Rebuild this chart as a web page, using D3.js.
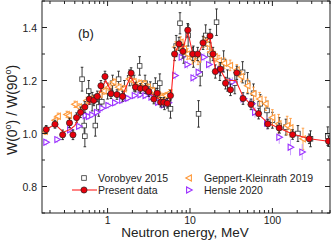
<!DOCTYPE html>
<html><head><meta charset="utf-8">
<script src="https://cdn.jsdelivr.net/npm/d3@7"></script>
<style>body{margin:0;background:#fff}svg{display:block;font-family:"Liberation Sans",Arial,sans-serif}</style>
</head><body><svg id="c" width="331" height="242"></svg>
<script>
// ---- data ----
const presentE = [0.18,0.23,0.285,0.345,0.38,0.42,0.47,0.53,0.6,0.68,0.75,0.83,0.93,1.1,1.3,1.52,1.93,2.18,2.5,2.88,3.17,3.64,4.0,4.4,4.8,5.3,5.8,6.5,7.35,8.2,9.4,10.8,12.4,14.4,17.5,19,20.3,23.4,27,31,37,44,55,68,88,121,176,280,480];
const presentW = [1.015,1.035,0.995,1.04,0.995,1.06,1.08,1.10,1.13,1.125,1.14,1.18,1.215,1.15,1.147,1.14,1.228,1.175,1.17,1.17,1.158,1.13,1.152,1.118,1.118,1.114,1.143,1.30,1.338,1.31,1.39,1.30,1.30,1.342,1.368,1.30,1.234,1.243,1.19,1.165,1.229,1.132,1.11,1.075,1.036,1.021,0.996,0.98,0.971];
const presentErr = [0.015,0.015,0.018,0.018,0.018,0.018,0.02,0.02,0.02,0.02,0.02,0.02,0.02,0.018,0.018,0.018,0.02,0.018,0.018,0.018,0.018,0.018,0.018,0.018,0.018,0.018,0.02,0.025,0.025,0.025,0.025,0.025,0.025,0.025,0.025,0.025,0.025,0.025,0.022,0.022,0.025,0.022,0.02,0.02,0.018,0.018,0.018,0.018,0.02];
const fitE = [0.18,0.23,0.29,0.35,0.4,0.47,0.55,0.65,0.75,0.85,0.95,1.1,1.3,1.55,1.9,2.2,2.6,3.2,4.0,4.8,5.5,5.9,6.5,7.3,8.3,9.4,10.8,12.5,14.5,17.5,20.3,23.4,27,31,36,44,55,68,88,121,176,280,480];
const fitW = [1.015,1.035,1.005,1.015,1.03,1.07,1.10,1.125,1.14,1.17,1.20,1.16,1.147,1.15,1.215,1.18,1.17,1.155,1.135,1.118,1.12,1.14,1.30,1.335,1.325,1.385,1.30,1.30,1.34,1.362,1.24,1.24,1.205,1.2,1.2,1.14,1.108,1.072,1.04,1.02,0.998,0.98,0.971];

const vorE = [0.49,0.52,0.53,0.59,0.65,0.71,0.78,0.85,1.0,1.15,1.36,1.6,1.85,2.1,2.45,2.85,3.3,3.8,4.3,4.9,5.8,6.8,7.56,8.4,9.5,11,12.7,13.3,15.5,17.5,21,23,25.6,28.5,35,43.5,50,59,71,86,100,121,146,204,290,470];
const vorW = [1.205,1.03,0.99,1.16,1.12,1.03,1.10,1.12,1.16,1.19,1.205,1.17,1.21,1.19,1.255,1.19,1.165,1.18,1.19,1.12,1.093,1.33,1.416,1.30,1.37,1.29,1.074,1.225,1.37,1.30,1.42,1.24,1.272,1.20,1.19,1.231,1.19,1.152,1.112,1.087,1.05,1.03,1.024,1.0,0.98,0.99];
const vorErr = [0.045,0.04,0.04,0.04,0.035,0.04,0.035,0.03,0.03,0.03,0.03,0.03,0.03,0.03,0.035,0.03,0.03,0.03,0.035,0.03,0.035,0.04,0.04,0.035,0.04,0.04,0.05,0.045,0.04,0.04,0.05,0.04,0.04,0.04,0.04,0.04,0.04,0.035,0.035,0.035,0.03,0.03,0.03,0.03,0.03,0.035];

const gepE = [0.174,0.23,0.25,0.32,0.34,0.40,0.45,0.56,0.65,0.80,0.9,1.03,1.18,1.36,1.57,1.84,2.07,2.4,2.75,3.1,3.47,4.1,4.6,5.1,5.65,6.7,7.7,8.5,9.3,10.7,12.5,14.6,16.3,17.9,20,22.5,26,30.7,37,42,50,59,70,83,100,119,151,166,235];
const gepW = [1.008,1.05,1.065,1.072,1.068,1.11,1.10,1.125,1.13,1.147,1.16,1.175,1.194,1.175,1.169,1.206,1.196,1.19,1.188,1.175,1.162,1.146,1.14,1.143,1.154,1.326,1.345,1.32,1.30,1.282,1.28,1.345,1.338,1.307,1.29,1.275,1.265,1.257,1.24,1.215,1.18,1.15,1.13,1.112,1.06,1.037,1.03,1.022,0.98];
const gepErr = [0.012,0.012,0.012,0.012,0.012,0.012,0.012,0.012,0.012,0.012,0.012,0.012,0.012,0.012,0.012,0.012,0.012,0.012,0.012,0.012,0.012,0.012,0.012,0.012,0.012,0.02,0.02,0.02,0.02,0.02,0.02,0.02,0.02,0.02,0.02,0.02,0.02,0.02,0.02,0.02,0.025,0.025,0.025,0.025,0.03,0.035,0.035,0.035,0.04];

const henE = [0.18,0.245,0.35,0.45,0.54,0.59,0.65,0.74,0.86,1.02,1.23,1.5,1.77,2.13,2.5,2.88,3.4,4.1,4.8,5.5,6.6,7.9,9.3,11,12.7,14.8,17,23.2,32.7,44.7,56.6,61.5,86,121,166,230];
const henW = [0.967,0.977,1.014,1.027,1.068,1.064,1.07,1.08,1.095,1.106,1.116,1.125,1.133,1.143,1.146,1.143,1.137,1.118,1.108,1.116,1.219,1.288,1.26,1.21,1.231,1.288,1.26,1.24,1.194,1.131,1.112,1.08,1.039,0.986,0.948,0.93];
const henErr = [0.012,0.012,0.012,0.012,0.012,0.012,0.012,0.012,0.012,0.012,0.012,0.012,0.012,0.012,0.012,0.012,0.012,0.012,0.012,0.012,0.015,0.015,0.015,0.015,0.015,0.015,0.015,0.018,0.018,0.02,0.02,0.02,0.025,0.025,0.03,0.03];

const xMajor = [1,10,100];
const xTickLabels = ["1","10","100"];
const yMajor = [0.8,1.0,1.2,1.4];
const yTickLabels = ["0.8","1.0","1.2","1.4"];
const legendNames = ["Vorobyev 2015","Present data","Geppert-Kleinrath 2019","Hensle 2020"];

// ---- drawing ----
const svg = d3.select("#c");
const L=42, R=330, T=1, B=213;
const x = d3.scaleLog().domain([0.16,500]).range([L,R]);
const y = d3.scaleLinear().domain([0.7,1.5]).range([B,T]);
const RED="#e8000b", ORANGE="#ff9a3c", PURPLE="#9b30ff";

function zip(E,W,Er){return E.map((e,i)=>({e,w:W[i],er:Er?Er[i]:0}));}

function errbars(g,data,color,cap,width){
  const gg=g.append("g").attr("stroke",color).attr("stroke-width",width||1);
  data.forEach(d=>{
    const xx=x(d.e);
    gg.append("line").attr("x1",xx).attr("x2",xx).attr("y1",y(d.w-d.er)).attr("y2",y(d.w+d.er));
    if(cap){
      gg.append("line").attr("x1",xx-cap).attr("x2",xx+cap).attr("y1",y(d.w-d.er)).attr("y2",y(d.w-d.er));
      gg.append("line").attr("x1",xx-cap).attr("x2",xx+cap).attr("y1",y(d.w+d.er)).attr("y2",y(d.w+d.er));
    }
  });
}
const plot = svg.append("g");
plot.append("defs").append("clipPath").attr("id","clip").append("rect").attr("x",L).attr("y",T).attr("width",R-L).attr("height",B-T);
const pg = plot.append("g").attr("clip-path","url(#clip)");

// Vorobyev
const vor = zip(vorE,vorW,vorErr);
errbars(pg,vor,"#222",1.3,0.9);
function square(g,cx,cy){g.append("rect").attr("x",cx-2.3).attr("y",cy-2.3).attr("width",4.6).attr("height",4.6).attr("fill","#fff").attr("stroke","#333").attr("stroke-width",0.8);}
vor.forEach(d=>square(pg,x(d.e),y(d.w)));

// Geppert-Kleinrath
const gep = zip(gepE,gepW,gepErr);
errbars(pg,gep,ORANGE,1.3,0.9);
function triL(g,cx,cy,c){g.append("path").attr("d",`M${cx-3.2},${cy}L${cx+2.4},${cy-3}L${cx+2.4},${cy+3}Z`).attr("fill","#fff").attr("stroke",c).attr("stroke-width",1.1);}
gep.forEach(d=>triL(pg,x(d.e),y(d.w),ORANGE));

// Hensle
const hen = zip(henE,henW,henErr);
errbars(pg,hen,"#c9a0ff",0,1);
function triR(g,cx,cy,c){g.append("path").attr("d",`M${cx+3.2},${cy}L${cx-2.4},${cy-3}L${cx-2.4},${cy+3}Z`).attr("fill","#fff").attr("stroke",c).attr("stroke-width",1.1);}
hen.forEach(d=>triR(pg,x(d.e),y(d.w),PURPLE));

// Present
const pres = zip(presentE,presentW,presentErr);
errbars(pg,pres,"#222",1.3,0.9);
const fit = fitE.map((e,i)=>({e,w:fitW[i]}));
pg.append("path").datum(fit).attr("fill","none").attr("stroke","#ff2020").attr("stroke-width",1.1)
  .attr("d",d3.line().x(d=>x(d.e)).y(d=>y(d.w)));
pres.forEach(d=>pg.append("circle").attr("cx",x(d.e)).attr("cy",y(d.w)).attr("r",3.1).attr("fill",RED).attr("stroke","#222").attr("stroke-width",0.7));

// axes: frame + ticks
const ax = svg.append("g").attr("stroke","#222").attr("fill","none");
ax.append("rect").attr("x",L).attr("y",T).attr("width",R-L).attr("height",B-T).attr("stroke-width",1);
const xMinor=[];
[0.1,1,10,100].forEach(dd=>{for(let k=2;k<=9;k++){const v=k*dd;if(v>=0.16&&v<=500)xMinor.push(v);}});
xMajor.forEach(v=>{ax.append("line").attr("x1",x(v)).attr("x2",x(v)).attr("y1",B).attr("y2",B-5);
  ax.append("line").attr("x1",x(v)).attr("x2",x(v)).attr("y1",T).attr("y2",T+5);});
xMinor.forEach(v=>{ax.append("line").attr("x1",x(v)).attr("x2",x(v)).attr("y1",B).attr("y2",B-3);
  ax.append("line").attr("x1",x(v)).attr("x2",x(v)).attr("y1",T).attr("y2",T+3);});
const yMinor=[0.7,0.9,1.1,1.3,1.5];
yMajor.forEach(v=>{ax.append("line").attr("x1",L).attr("x2",L+5).attr("y1",y(v)).attr("y2",y(v));
  ax.append("line").attr("x1",R).attr("x2",R-5).attr("y1",y(v)).attr("y2",y(v));});
yMinor.forEach(v=>{ax.append("line").attr("x1",L).attr("x2",L+3).attr("y1",y(v)).attr("y2",y(v));
  ax.append("line").attr("x1",R).attr("x2",R-3).attr("y1",y(v)).attr("y2",y(v));});

// tick labels
const tl = svg.append("g").attr("fill","#222").attr("font-size",10.5);
xMajor.forEach((v,i)=>tl.append("text").attr("x",x(v)).attr("y",224).attr("text-anchor","middle").text(xTickLabels[i]));
yMajor.forEach((v,i)=>tl.append("text").attr("x",37).attr("y",y(v)+4).attr("text-anchor","end").text(yTickLabels[i]));

// axis titles
svg.append("text").attr("x",185).attr("y",237).attr("text-anchor","middle").attr("font-size",13.5).attr("fill","#222").text("Neutron energy, MeV");
const yt = svg.append("text").attr("transform","translate(17,110) rotate(-90)").attr("text-anchor","middle").attr("font-size",14).attr("fill","#222");
yt.append("tspan").text("W(0");
yt.append("tspan").attr("font-size",9).attr("dy",-6).text("o");
yt.append("tspan").attr("dy",6).text(") / W(90");
yt.append("tspan").attr("font-size",9).attr("dy",-6).text("o");
yt.append("tspan").attr("dy",6).text(")");

svg.append("text").attr("x",78).attr("y",38).attr("font-size",13).attr("fill","#222").text("(b)");

// legend
const lg = svg.append("g").attr("font-size",10.5).attr("fill","#222");
square(lg,84,178);
lg.append("text").attr("x",98).attr("y",182).text(legendNames[0]);
lg.append("line").attr("x1",72).attr("x2",97).attr("y1",190).attr("y2",190).attr("stroke","#ff2020").attr("stroke-width",1.1);
lg.append("circle").attr("cx",84).attr("cy",190).attr("r",3.1).attr("fill",RED).attr("stroke","#222").attr("stroke-width",0.7);
lg.append("text").attr("x",98).attr("y",194).text(legendNames[1]);
triL(lg,189,178,ORANGE);
lg.append("text").attr("x",204).attr("y",182).text(legendNames[2]);
triR(lg,189,190,PURPLE);
lg.append("text").attr("x",204).attr("y",194).text(legendNames[3]);
</script></body></html>
